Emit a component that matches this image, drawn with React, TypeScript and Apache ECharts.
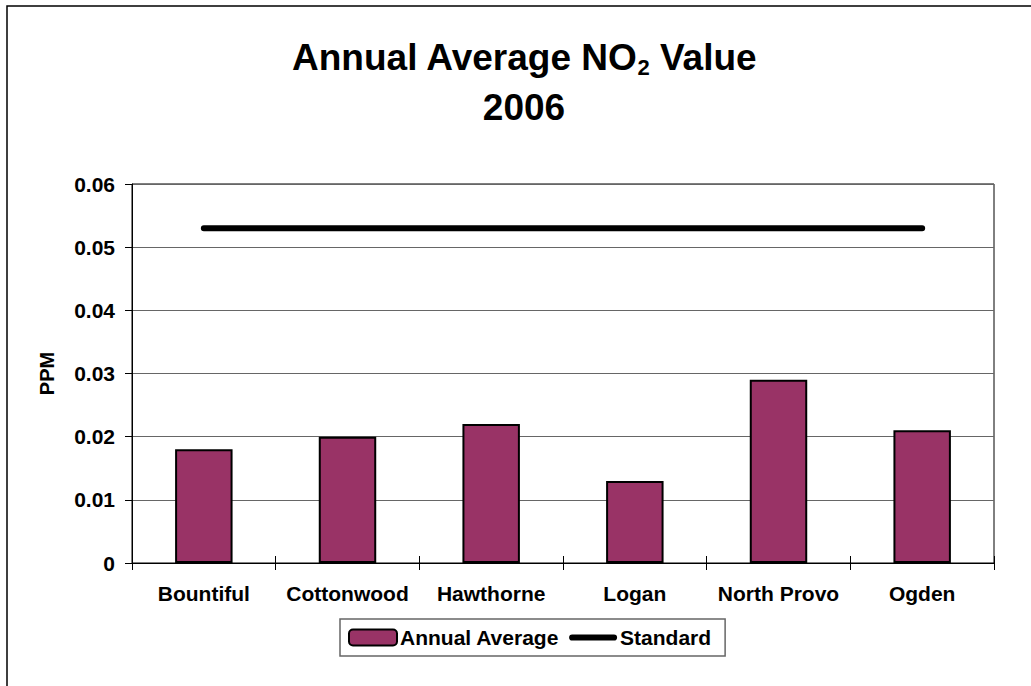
import React, { useEffect, useRef } from "react";
import * as echarts from "echarts";

const categories = ["Bountiful", "Cottonwood", "Hawthorne", "Logan", "North Provo", "Ogden"];
const annualAverage = [0.018, 0.02, 0.022, 0.013, 0.029, 0.021];
const standard = [0.053, 0.053, 0.053, 0.053, 0.053, 0.053];
const yTicks = { min: 0, max: 0.06, interval: 0.01 };
const titleLine1 = "Annual Average NO";
const titleSub = "2";
const titleLine1End = " Value";
const titleLine2 = "2006";
const yName = "PPM";
const seriesNames = ["Annual Average", "Standard"];

const FONT = "Arial, 'Liberation Sans', Helvetica, sans-serif";

export default function App() {
  const ref = useRef<HTMLDivElement>(null);
  useEffect(() => {
    if (!ref.current) return;
    const chart = echarts.init(ref.current, null, { renderer: "svg" });
    const labelStyle = { fontFamily: FONT, fontWeight: "bold", fontSize: 21, color: "#000" };
    chart.setOption({
      animation: false,
      backgroundColor: "#fff",
      graphic: [
        {
          type: "rect",
          shape: { x: 7, y: 6, width: 1200, height: 900 },
          style: { fill: "none", stroke: "#000", lineWidth: 1.5 },
          z: -1,
        },
        {
          type: "text",
          x: 524,
          y: 36,
          style: {
            text: `{a|${titleLine1}}{s|${titleSub}}{a|${titleLine1End}}`,
            align: "center",
            verticalAlign: "top",
            rich: {
              a: { fontFamily: FONT, fontWeight: "bold", fontSize: 37, lineHeight: 42, fill: "#000" },
              s: { fontFamily: FONT, fontWeight: "bold", fontSize: 22, lineHeight: 23, verticalAlign: "bottom", fill: "#000" },
            },
          },
        },
        {
          type: "text",
          x: 524,
          y: 107,
          style: {
            text: titleLine2,
            align: "center",
            verticalAlign: "middle",
            fontFamily: FONT,
            fontWeight: "bold",
            fontSize: 37,
            fill: "#000",
          },
        },
      ],
      legend: {
        left: 340,
        top: 619,
        padding: [8, 14, 8, 8],
        itemGap: 10,
        itemWidth: 48,
        itemHeight: 16,
        borderColor: "#666",
        borderWidth: 1.5,
        textStyle: { ...labelStyle, padding: [0, 0, 0, -2] },
        data: [
          { name: seriesNames[0], itemStyle: { borderColor: "#000", borderWidth: 2 } },
          {
            name: seriesNames[1],
            icon: "path://M3.5,0 L50.5,0 A3.5,3.5 0 0 1 50.5,7 L3.5,7 A3.5,3.5 0 0 1 3.5,0 Z",
            itemStyle: { color: "#000", borderWidth: 0 },
          },
        ],
      },
      grid: { left: 132, right: 37, top: 184, bottom: 123, show: true, borderColor: "#000", borderWidth: 1, containLabel: false },
      xAxis: [
        {
          type: "category",
          data: categories,
          axisLine: { lineStyle: { color: "#000", width: 1 } },
          axisTick: { show: true, length: 7, lineStyle: { color: "#000" } },
          axisLabel: { ...labelStyle, margin: 20, interval: 0 },
          splitLine: { show: false },
        },
        {
          type: "category",
          data: categories,
          position: "bottom",
          axisLine: { show: false },
          axisTick: { show: true, inside: true, length: 7, lineStyle: { color: "#000" } },
          axisLabel: { show: false },
          splitLine: { show: false },
        },
      ],
      yAxis: {
        type: "value",
        min: yTicks.min,
        max: yTicks.max,
        interval: yTicks.interval,
        name: yName,
        nameLocation: "middle",
        nameGap: 75,
        nameTextStyle: { ...labelStyle, fontSize: 20 },
        axisLine: { show: true, lineStyle: { color: "#000", width: 1 } },
        axisTick: { show: true, length: 7, lineStyle: { color: "#000" } },
        axisLabel: {
          ...labelStyle,
          margin: 17,
          formatter: (v: number) => (v === 0 ? "0" : v.toFixed(2)),
        },
        splitLine: { show: true, lineStyle: { color: "#666", width: 1 } },
      },
      series: [
        {
          name: seriesNames[0],
          type: "bar",
          data: annualAverage,
          barWidth: "40%",
          itemStyle: { color: "#993366", borderColor: "#000", borderWidth: 2 },
          z: 2,
        },
        {
          name: seriesNames[1],
          type: "line",
          data: standard,
          symbol: "none",
          lineStyle: { color: "#000", width: 6, cap: "round" },
          itemStyle: { color: "#000" },
          z: 3,
        },
      ],
    });
    return () => chart.dispose();
  }, []);
  return (
    <div
      ref={ref}
      style={{ position: "fixed", left: 0, top: 0, width: 1031, height: 686, background: "#fff" }}
    />
  );
}
